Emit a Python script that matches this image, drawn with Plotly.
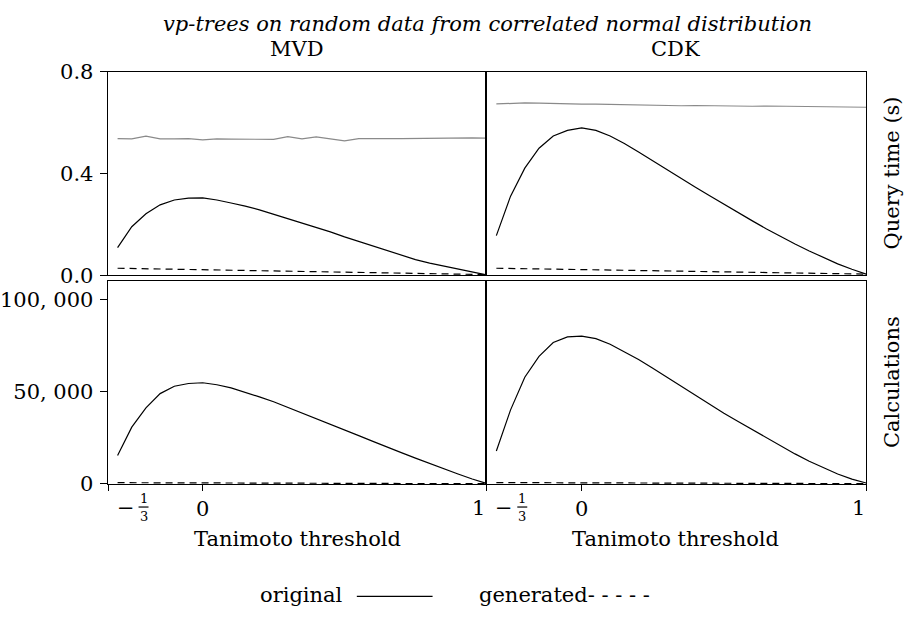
import plotly.graph_objects as go

# ---------------- data ----------------
thresholds = [-0.30, -0.25, -0.20, -0.15, -0.10, -0.05, 0.00, 0.05, 0.10, 0.15,
              0.20, 0.25, 0.30, 0.35, 0.40, 0.45, 0.50, 0.55, 0.60, 0.65,
              0.70, 0.75, 0.80, 0.85, 0.90, 0.95, 1.00]

mvd_time_original = [0.109, 0.191, 0.242, 0.277, 0.296, 0.303, 0.304, 0.296, 0.284, 0.272,
                     0.257, 0.240, 0.223, 0.206, 0.189, 0.171, 0.151, 0.133, 0.114, 0.097,
                     0.079, 0.062, 0.048, 0.036, 0.025, 0.013, 0.002]
mvd_time_generated = [0.028, 0.027, 0.026, 0.025, 0.024, 0.023, 0.021, 0.020, 0.019, 0.018,
                      0.017, 0.016, 0.015, 0.014, 0.013, 0.012, 0.011, 0.010, 0.009, 0.008,
                      0.007, 0.006, 0.005, 0.005, 0.004, 0.004, 0.003]
mvd_time_scan = [0.537, 0.536, 0.547, 0.536, 0.536, 0.537, 0.532, 0.536, 0.535, 0.535,
                 0.535, 0.534, 0.545, 0.536, 0.544, 0.535, 0.528, 0.537, 0.536, 0.537,
                 0.537, 0.538, 0.538, 0.539, 0.539, 0.540, 0.539]

cdk_time_original = [0.156, 0.311, 0.421, 0.499, 0.547, 0.569, 0.579, 0.569, 0.547, 0.518,
                     0.484, 0.449, 0.415, 0.380, 0.346, 0.313, 0.279, 0.247, 0.214, 0.182,
                     0.152, 0.123, 0.096, 0.069, 0.045, 0.024, 0.005]
cdk_time_generated = [0.028, 0.027, 0.026, 0.025, 0.024, 0.023, 0.022, 0.021, 0.020, 0.019,
                      0.018, 0.017, 0.016, 0.015, 0.014, 0.013, 0.012, 0.011, 0.010, 0.009,
                      0.009, 0.008, 0.007, 0.007, 0.006, 0.006, 0.005]
cdk_time_scan = [0.673, 0.676, 0.677, 0.676, 0.674, 0.673, 0.672, 0.672, 0.671, 0.670,
                 0.669, 0.667, 0.666, 0.666, 0.667, 0.666, 0.665, 0.664, 0.664, 0.665,
                 0.664, 0.663, 0.662, 0.661, 0.661, 0.660, 0.660]

mvd_calc_original = [15400, 30800, 41300, 49000, 53000, 54500, 54900, 53800, 52100, 49800,
                     47200, 44600, 41600, 38600, 35500, 32500, 29400, 26200, 23100, 19900,
                     17000, 14000, 11000, 8000, 5400, 2700, 300]
mvd_calc_generated = [700, 660, 620, 590, 570, 550, 530, 510, 490, 470,
                      450, 430, 410, 390, 370, 350, 330, 310, 290, 270,
                      250, 230, 210, 190, 170, 150, 130]

cdk_calc_original = [17900, 40200, 57900, 69200, 76700, 79800, 80200, 78800, 75800, 71800,
                     67500, 62800, 57900, 53000, 48000, 43300, 38400, 33900, 29400, 24900,
                     20500, 16300, 12300, 8700, 5400, 2600, 500]
cdk_calc_generated = [750, 710, 670, 640, 610, 590, 570, 550, 530, 510,
                      490, 470, 450, 430, 410, 390, 370, 350, 330, 310,
                      290, 270, 250, 230, 210, 190, 170]

x_tick_vals = [-1/3, 0, 1]
time_ticks = [0.0, 0.4, 0.8]
time_tick_text = ["0.0", "0.4", "0.8"]
calc_ticks = [0, 50000, 100000]
calc_tick_text = ["0", "50, 000", "100, 000"]

# ---------------- figure ----------------
W, H = 905, 619
FONT = "DejaVu Serif"
FS = 21


def px(x):
    return x / W


def py(y):
    return 1 - y / H


fig = go.Figure()

panels = [
    ("x", "y", mvd_time_original, mvd_time_generated, mvd_time_scan),
    ("x2", "y2", cdk_time_original, cdk_time_generated, cdk_time_scan),
    ("x3", "y3", mvd_calc_original, mvd_calc_generated, None),
    ("x4", "y4", cdk_calc_original, cdk_calc_generated, None),
]
for xa, ya, orig, gen, scan in panels:
    if scan is not None:
        fig.add_trace(go.Scatter(x=thresholds, y=scan, mode="lines", xaxis=xa, yaxis=ya,
                                 line=dict(color="#8a8a8a", width=1.2), showlegend=False))
    fig.add_trace(go.Scatter(x=thresholds, y=orig, mode="lines", xaxis=xa, yaxis=ya,
                             line=dict(color="black", width=1.2), showlegend=False))
    fig.add_trace(go.Scatter(x=thresholds, y=gen, mode="lines", xaxis=xa, yaxis=ya,
                             line=dict(color="black", width=1.2, dash="7px,5px"),
                             showlegend=False))

left_dom = [px(105), px(485)]
right_dom = [px(485), px(866)]
top_dom = [py(274), py(62)]
bot_dom = [py(491), py(280)]
xr = [-0.335, 1.0]

common_axis = dict(showline=True, linecolor="black", linewidth=1, mirror=True,
                   showgrid=False, zeroline=False,
                   tickfont=dict(family=FONT, size=FS, color="black"),
                   tickcolor="black")

fig.update_layout(
    width=W, height=H,
    margin=dict(l=0, r=0, t=0, b=0),
    paper_bgcolor="white", plot_bgcolor="white",
    font=dict(family=FONT, size=FS, color="black"),
    xaxis=dict(domain=left_dom, anchor="y", range=xr, showticklabels=False, ticks="", **common_axis),
    xaxis2=dict(domain=right_dom, anchor="y2", range=xr, showticklabels=False, ticks="", **common_axis),
    xaxis3=dict(domain=left_dom, anchor="y3", range=xr, tickvals=x_tick_vals,
                ticktext=["", "0", ""], ticks="outside", ticklen=6, **common_axis),
    xaxis4=dict(domain=right_dom, anchor="y4", range=xr, tickvals=x_tick_vals,
                ticktext=["", "0", ""], ticks="outside", ticklen=6, **common_axis),
    yaxis=dict(domain=top_dom, anchor="x", range=[0, 0.8], tickvals=time_ticks,
               ticktext=time_tick_text, ticks="outside", ticklen=7, ticklabelstandoff=2,
               **common_axis),
    yaxis2=dict(domain=top_dom, anchor="x2", range=[0, 0.8], showticklabels=False, ticks="",
                **common_axis),
    yaxis3=dict(domain=bot_dom, anchor="x3", range=[0, 110000], tickvals=calc_ticks,
                ticktext=calc_tick_text, ticks="outside", ticklen=7, ticklabelstandoff=2,
                **common_axis),
    yaxis4=dict(domain=bot_dom, anchor="x4", range=[0, 110000], showticklabels=False, ticks="",
                **common_axis),
)

ann = []


def text(x, y, s, size=FS, italic=False, angle=0, xanchor="center", yanchor="middle"):
    t = f"<i>{s}</i>" if italic else s
    ann.append(dict(x=px(x), y=py(y), xref="paper", yref="paper", text=t, showarrow=False,
                    textangle=angle, xanchor=xanchor, yanchor=yanchor,
                    font=dict(family=FONT, size=size, color="black")))


text(486, 12, "vp-trees on random data from correlated normal distribution", size=21, italic=True)
text(295, 38, "MVD")
text(675, 38, "CDK")
text(892, 168, "Query time (s)", angle=-90)
text(892, 385, "Calculations", angle=-90)
text(295, 548, "Tanimoto threshold")
text(675, 548, "Tanimoto threshold")

# x tick labels shifted inwards as in the original, with a stacked 1/3 fraction
for x0, x1 in [(105, 485), (485, 866)]:
    text(x0 + 18, 516, "−")
    text(x0 + 36, 506, "1", size=13)
    text(x0 + 36, 525, "3", size=13)
    text(x1 - 8, 516, "1")

# legend
text(343, 606, "original", xanchor="right")
text(476, 606, "generated- - - - -", xanchor="left")

fig.update_layout(annotations=ann)

shapes = [dict(type="line", xref="paper", yref="paper", x0=px(355), x1=px(431), y0=py(608), y1=py(608),
               line=dict(color="black", width=1.2))]
for x0 in [105, 485]:
    shapes.append(dict(type="line", xref="paper", yref="paper", x0=px(x0 + 31), x1=px(x0 + 41),
                       y0=py(515), y1=py(515), line=dict(color="black", width=1.2)))
fig.update_layout(shapes=shapes)

fig.write_html("out.html")
